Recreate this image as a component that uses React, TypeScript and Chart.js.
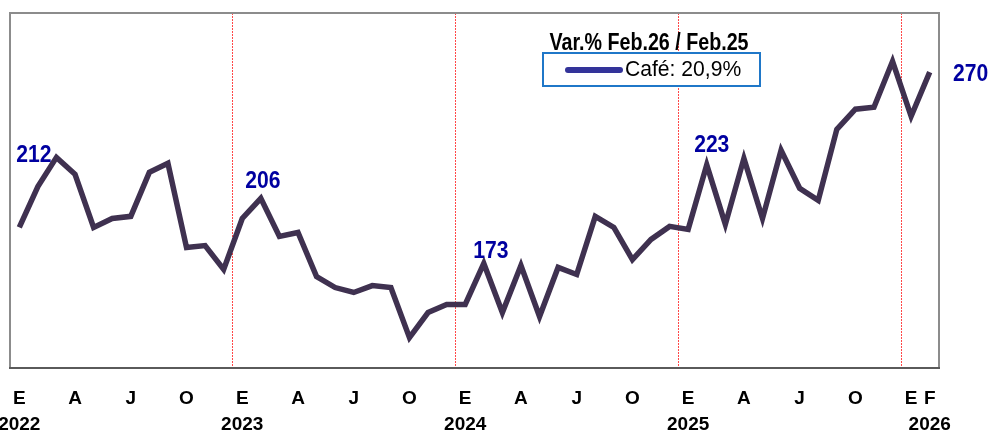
import React, { useEffect, useRef } from 'react';
import { Chart, registerables } from 'chart.js';

Chart.register(...registerables);

// ---- data (monthly index, Jan 2022 .. Feb 2026) ----
const years = [2022, 2023, 2024, 2025, 2026];
const monthCodes = ['E', 'F', 'M', 'A', 'M', 'J', 'J', 'A', 'S', 'O', 'N', 'D'];
const cafe2022 = [191.3, 212, 226.8, 218.2, 191.3, 195.8, 196.9, 219.2, 223.8, 181.1, 182.1, 170.0];
const cafe2023 = [195.8, 206, 186.7, 188.7, 166.4, 160.8, 158.3, 161.8, 160.8, 135.4, 148.1, 152.2];
const cafe2024 = [152.2, 173, 148.1, 172.0, 146.1, 171.0, 167.4, 196.9, 191.3, 175.0, 185.2, 191.8];
const cafe2025 = [190.3, 223, 192.8, 226.3, 195.8, 230.4, 211.1, 205.0, 241.0, 251.2, 252.2, 275.5];
const cafe2026 = [247.6, 270];
const seriesLabel = 'Café';
const legendTitle = 'Var.% Feb.26 / Feb.25';
const legendValue = '20,9%';
// month positions that carry a tick letter
const shownMonths = ['E', 'A', 'J', 'O'];
// categories whose values are written on the chart (Feb of each year)
const annotated = ['F-2022', 'F-2023', 'F-2024', 'F-2025', 'F-2026'];

const yearSeries = [cafe2022, cafe2023, cafe2024, cafe2025, cafe2026];
const categories: string[] = [];
const values: number[] = [];
yearSeries.forEach((arr, yi) => {
  arr.forEach((v, mi) => {
    categories.push(monthCodes[mi] + '-' + years[yi]);
    values.push(v);
  });
});
const lastIdx = categories.length - 1;
const tickLabels: (string | string[])[] = categories.map((c, i) => {
  const [m, y] = c.split('-');
  const mi = i % 12;
  if (i === lastIdx) return [m, y];
  if (mi === 0 && i + 1 !== lastIdx) return [m, y];
  if (mi === 0) return m;
  if ((mi === 3 || mi === 6 || mi === 9) && shownMonths.includes(m)) return m;
  return '';
});

function hasFont(name: string) {
  const c = document.createElement('canvas').getContext('2d');
  if (!c) return false;
  const s = 'Var.% Feb.26 2022';
  c.font = '20px monospace';
  const a = c.measureText(s).width;
  c.font = `20px "${name}", monospace`;
  return Math.abs(c.measureText(s).width - a) > 0.5;
}

function drawText(ctx: CanvasRenderingContext2D, s: string, x: number, y: number, font: string, color: string, sx: number, align: CanvasTextAlign) {
  ctx.save();
  ctx.font = font;
  ctx.fillStyle = color;
  ctx.textBaseline = 'middle';
  ctx.textAlign = align;
  ctx.translate(x, y);
  ctx.scale(sx, 1);
  ctx.fillText(s, 0, 0);
  ctx.restore();
}

const labelOffsets: Record<string, [number, number]> = {
  'F-2022': [-4, -31],
  'F-2023': [2, -17],
  'F-2024': [7, -12],
  'F-2025': [5, -19],
  'F-2026': [41, 2],
};

export default function App() {
  const ref = useRef<HTMLCanvasElement>(null);
  useEffect(() => {
    if (!ref.current) return;
    const narrow = hasFont('Liberation Sans Narrow');
    const tickFont = narrow
      ? { family: '"Liberation Sans Narrow", "Arial Narrow", sans-serif', size: 20, weight: 'bold' as const, lineHeight: 1.3 }
      : { family: '"Liberation Sans", Arial, sans-serif', size: 19, weight: 'bold' as const, lineHeight: 26 / 19 };
    const yearBoundaries = [12, 24, 36, 48];

    const overlay = {
      id: 'overlay',
      afterDraw(chart: any) {
        const { ctx, chartArea: a } = chart;
        ctx.save();
        ctx.lineWidth = 2;
        ctx.strokeStyle = '#8c8c8c';
        ctx.beginPath();
        ctx.moveTo(a.left, a.bottom);
        ctx.lineTo(a.left, a.top);
        ctx.lineTo(a.right, a.top);
        ctx.lineTo(a.right, a.bottom);
        ctx.stroke();
        ctx.strokeStyle = '#5a5a5a';
        ctx.beginPath();
        ctx.moveTo(a.left - 1, a.bottom);
        ctx.lineTo(a.right + 1, a.bottom);
        ctx.stroke();
        ctx.restore();

        // value labels
        const meta = chart.getDatasetMeta(0);
        annotated.forEach((cat) => {
          const i = categories.indexOf(cat);
          const pt = meta.data[i];
          if (!pt) return;
          const [dx, dy] = labelOffsets[cat];
          drawText(ctx, String(Math.round(values[i])), pt.x + dx, pt.y + dy,
            'bold 24px "Liberation Sans", Arial, sans-serif', '#0000a0', 0.88, 'center');
        });

        // legend
        const lx = 543, ly = 53, lw = 217, lh = 33;
        drawText(ctx, legendTitle, 649, 43,
          'bold 24px "Liberation Sans", Arial, sans-serif', '#000', 0.82, 'center');
        ctx.save();
        ctx.fillStyle = '#fff';
        ctx.fillRect(lx, ly, lw, lh);
        ctx.lineWidth = 2;
        ctx.strokeStyle = '#1f77c8';
        ctx.strokeRect(lx, ly, lw, lh);
        ctx.lineCap = 'round';
        ctx.lineWidth = 6;
        ctx.strokeStyle = '#333399';
        ctx.beginPath();
        ctx.moveTo(lx + 25, ly + 17);
        ctx.lineTo(lx + 77, ly + 17);
        ctx.stroke();
        ctx.restore();
        drawText(ctx, `${seriesLabel}: ${legendValue}`, lx + 82, ly + 17,
          '22px "Liberation Sans", Arial, sans-serif', '#000', 0.96, 'left');
      },
    };

    const chart = new Chart(ref.current, {
      type: 'line',
      data: {
        labels: tickLabels as any,
        datasets: [
          {
            label: seriesLabel,
            data: values,
            borderColor: '#3f3150',
            borderWidth: 5.5,
            pointRadius: 0,
            tension: 0,
            fill: false,
          },
        ],
      },
      options: {
        animation: false,
        responsive: false,
        maintainAspectRatio: false,
        layout: { padding: { left: 10, right: 52, top: 13, bottom: 0 } },
        plugins: { legend: { display: false }, tooltip: { enabled: false } },
        scales: {
          x: {
            type: 'category',
            offset: true,
            grid: {
              offset: true,
              drawTicks: false,
              lineWidth: 1,
              color: (c: any) => (yearBoundaries.includes(c.index) ? '#ff4848' : 'rgba(0,0,0,0)'),
            },
            border: { display: false, dash: [2, 1] },
            ticks: {
              autoSkip: false,
              maxRotation: 0,
              minRotation: 0,
              padding: 18,
              color: '#000',
              font: tickFont,
            },
            afterFit: (s: any) => {
              s.height = 66;
              s.paddingLeft = 0;
              s.paddingRight = 0;
            },
          },
          y: { display: false, min: 120, max: 300 },
        },
      },
      plugins: [overlay],
    });
    return () => chart.destroy();
  }, []);

  return (
    <div style={{ position: 'absolute', left: 0, top: 0, width: 991, height: 434, background: '#fff' }}>
      <canvas ref={ref} width={991} height={434} style={{ display: 'block' }} />
    </div>
  );
}
